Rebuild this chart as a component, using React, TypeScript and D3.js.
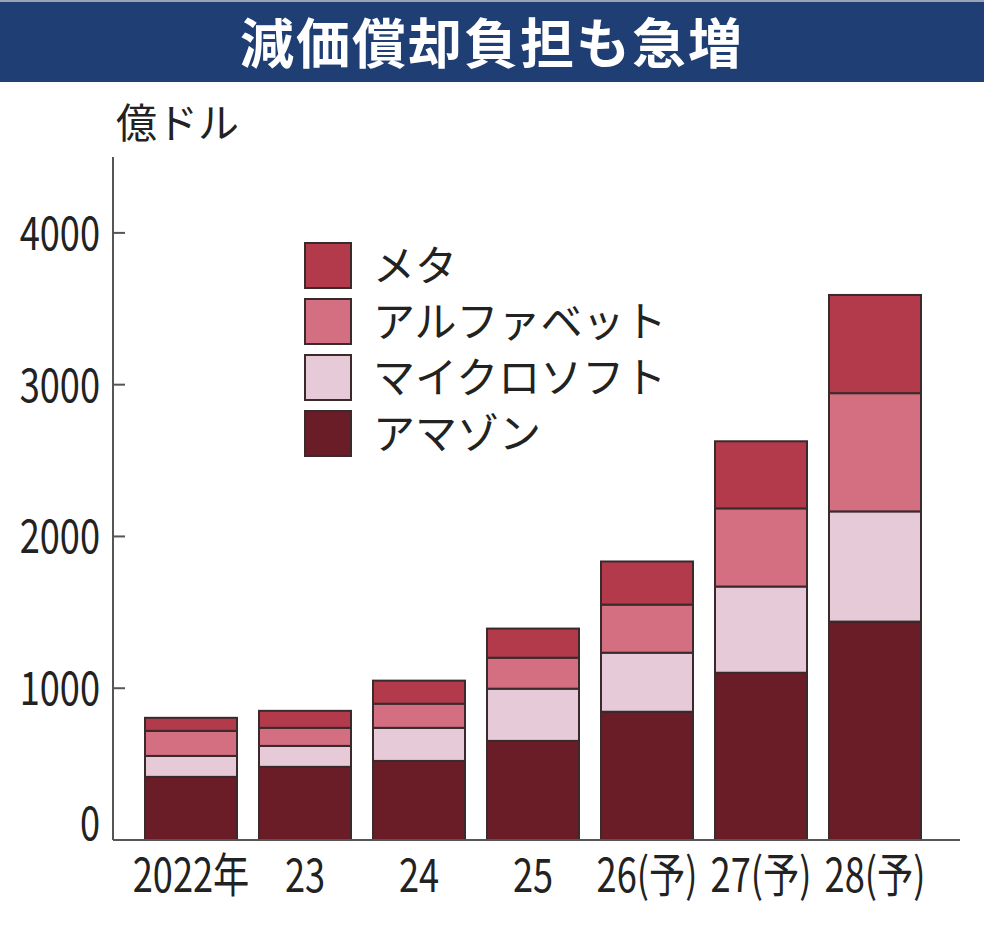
import React from 'react';
import * as d3 from 'd3';

// Years on the x axis
const years = ['2022年', '23', '24', '25', '26(予)', '27(予)', '28(予)'];

// Depreciation per company, 100 million USD
const amazon = [416, 482, 521, 653, 845, 1102, 1439];
const microsoft = [138, 138, 218, 344, 389, 568, 726];
const alphabet = [165, 119, 159, 204, 317, 515, 779];
const meta = [86, 112, 152, 192, 284, 442, 647];

const seriesKeys = ['amazon', 'microsoft', 'alphabet', 'meta'];
const seriesNames = ['アマゾン', 'マイクロソフト', 'アルファベット', 'メタ'];
const seriesColors = ['#6b1d27', '#e6cad8', '#d46f82', '#b23a4a'];

const yTicks = [0, 1000, 2000, 3000, 4000];

const W = 984;
const H = 926;
const CJK = '"Noto Sans CJK JP", "Noto Sans", sans-serif';

export default function App() {
  const rows = years.map((y, i) => ({
    year: y,
    amazon: amazon[i],
    microsoft: microsoft[i],
    alphabet: alphabet[i],
    meta: meta[i],
  }));

  const stacked = d3.stack<any>().keys(seriesKeys)(rows);

  const x = d3
    .scaleBand()
    .domain(years)
    .range([134, 932])
    .paddingInner(0.193)
    .paddingOuter(0.0965);

  const y = d3.scaleLinear().domain([0, 4500]).range([840, 157]);

  const axisX = 113;
  const axisRight = 960;

  // legend is drawn top-down: meta first
  const legendOrder = [3, 2, 1, 0];

  return (
    <svg
      width={W}
      height={H}
      style={{ position: 'absolute', left: 0, top: 0, background: '#fff', display: 'block' }}
    >
      {/* title banner */}
      <rect x={0} y={0} width={W} height={82} fill="#1f3e73" />
      <line x1={0} x2={W} y1={1} y2={1} stroke="#9aa3b5" strokeWidth={2} />
      <text
        x={W / 2}
        y={64}
        textAnchor="middle"
        fill="#ffffff"
        fontFamily={CJK}
        fontWeight={700}
        fontSize={54}
        letterSpacing={2}
      >
        減価償却負担も急増
      </text>

      {/* unit label */}
      <text x={116} y={138} fontFamily={CJK} fontSize={41} fill="#222">
        億ドル
      </text>

      {/* stacked bars */}
      {stacked.map((layer, si) => (
        <g key={layer.key}>
          {layer.map((d, i) => (
            <rect
              key={i}
              x={x(years[i])}
              y={y(d[1])}
              width={x.bandwidth()}
              height={y(d[0]) - y(d[1])}
              fill={seriesColors[si]}
              stroke="#3a2a2c"
              strokeWidth={2}
            />
          ))}
        </g>
      ))}

      {/* axes */}
      <line x1={axisX} x2={axisX} y1={y(4500)} y2={y(0)} stroke="#555" strokeWidth={2} />
      <line x1={axisX} x2={axisRight} y1={y(0)} y2={y(0)} stroke="#555" strokeWidth={2} />
      {yTicks.map((t) => (
        <g key={t}>
          {t > 0 && (
            <line x1={axisX} x2={axisX + 12} y1={y(t)} y2={y(t)} stroke="#555" strokeWidth={2} />
          )}
          <text
            transform={`translate(100,${y(t) + (t === 0 ? -17 : 0)}) scale(0.77,1)`}
            dy="0.36em"
            textAnchor="end"
            fontFamily={CJK}
            fontSize={47}
            fill="#222"
          >
            {t}
          </text>
        </g>
      ))}

      {/* x labels */}
      {years.map((yr) => (
        <text
          key={yr}
          transform={`translate(${(x(yr) as number) + x.bandwidth() / 2},${875}) scale(0.77,1)`}
          dy="0.36em"
          textAnchor="middle"
          fontFamily={CJK}
          fontSize={47}
          fill="#222"
        >
          {yr}
        </text>
      ))}

      {/* legend */}
      {legendOrder.map((si, i) => (
        <g key={seriesKeys[si]} transform={`translate(305,${243 + i * 56})`}>
          <rect
            width={46}
            height={45}
            fill={seriesColors[si]}
            stroke="#3a2a2c"
            strokeWidth={2}
          />
          <text x={68} y={23} dy="0.36em" fontFamily={CJK} fontSize={42} fill="#222">
            {seriesNames[si]}
          </text>
        </g>
      ))}
    </svg>
  );
}
